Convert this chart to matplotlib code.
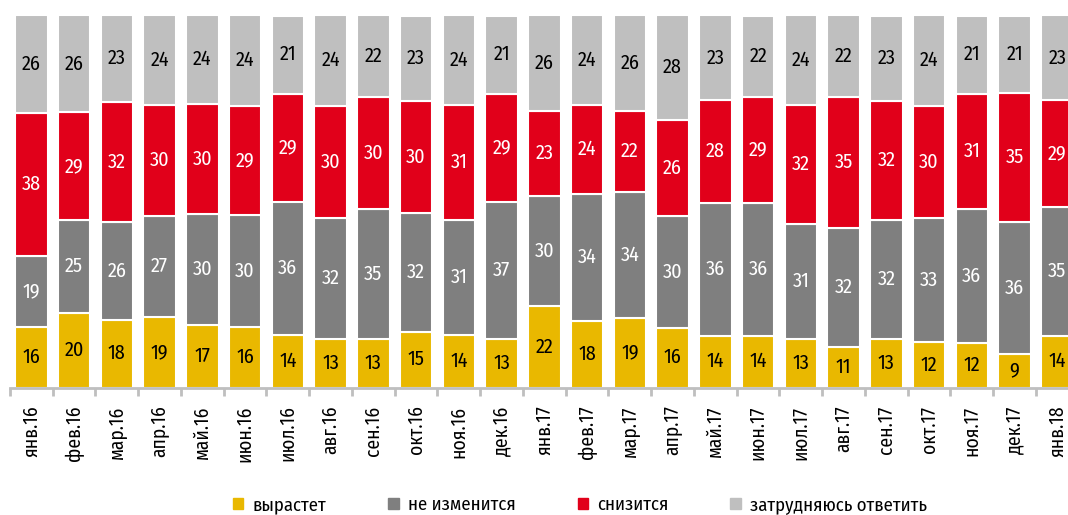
import numpy as np
import matplotlib.pyplot as plt
from matplotlib.patches import Patch

plt.rcParams['font.family'] = ['Fira Sans Condensed', 'DejaVu Sans']
plt.rcParams['font.stretch'] = 'condensed'

months = ["янв.16", "фев.16", "мар.16", "апр.16", "май.16", "июн.16", "июл.16",
          "авг.16", "сен.16", "окт.16", "ноя.16", "дек.16", "янв.17", "фев.17",
          "мар.17", "апр.17", "май.17", "июн.17", "июл.17", "авг.17", "сен.17",
          "окт.17", "ноя.17", "дек.17", "янв.18"]

grow = [16, 20, 18, 19, 17, 16, 14, 13, 13, 15, 14, 13, 22, 18, 19, 16, 14, 14, 13, 11, 13, 12, 12, 9, 14]
same = [19, 25, 26, 27, 30, 30, 36, 32, 35, 32, 31, 37, 30, 34, 34, 30, 36, 36, 31, 32, 32, 33, 36, 36, 35]
fall = [38, 29, 32, 30, 30, 29, 29, 30, 30, 30, 31, 29, 23, 24, 22, 26, 28, 29, 32, 35, 32, 30, 31, 35, 29]
unsure = [26, 26, 23, 24, 24, 24, 21, 24, 22, 23, 24, 21, 26, 24, 26, 28, 23, 22, 24, 22, 23, 24, 21, 21, 23]

series = [("вырастет", grow, "#E9B800", "black"),
          ("не изменится", same, "#7F7F7F", "white"),
          ("снизится", fall, "#E1001A", "white"),
          ("затрудняюсь ответить", unsure, "#BFBFBF", "black")]

raw = np.array([s[1] for s in series], dtype=float)
share = raw / raw.sum(axis=0) * 100  # 100% stacked

fig = plt.figure(figsize=(10.68, 5.15), dpi=100)
ax = fig.add_axes([10 / 1068, 1 - 387.5 / 515, 1068.75 / 1068, 372 / 515])

x = np.arange(len(months))
bottom = np.zeros(len(months))
for i, (name, vals, color, tcol) in enumerate(series):
    ax.bar(x, share[i], 0.76, bottom=bottom, color=color,
           edgecolor="white", linewidth=1.5, label=name)
    for xi, b, h, v in zip(x, bottom, share[i], vals):
        ax.text(xi, b + h / 2, str(v), ha="center", va="center",
                fontsize=14.5, color=tcol)
    bottom += share[i]

ax.set_xlim(-0.5, len(months) - 0.5)
ax.set_ylim(0, 100)
for s in ["top", "right", "left"]:
    ax.spines[s].set_visible(False)
ax.spines["bottom"].set_color("#BFBFBF")
ax.spines["bottom"].set_linewidth(2)
ax.set_yticks([])
ax.set_xticks(x)
ax.set_xticklabels(months, rotation=90, fontsize=14)
ax.tick_params(axis="x", which="major", length=0, pad=13)
ax.set_xticks(np.arange(-0.5, len(months)), minor=True)
ax.tick_params(axis="x", which="minor", length=6, width=2, color="#BFBFBF")

handles = [Patch(color=s[2]) for s in series]
fig.legend(handles, [s[0] for s in series], loc="center", ncol=4,
           bbox_to_anchor=(580 / 1068, 1 - 505 / 515), frameon=False,
           fontsize=13.5, handlelength=0.55, handleheight=0.55,
           handletextpad=0.5, columnspacing=3.3)

fig.savefig("out.png", dpi=100)
